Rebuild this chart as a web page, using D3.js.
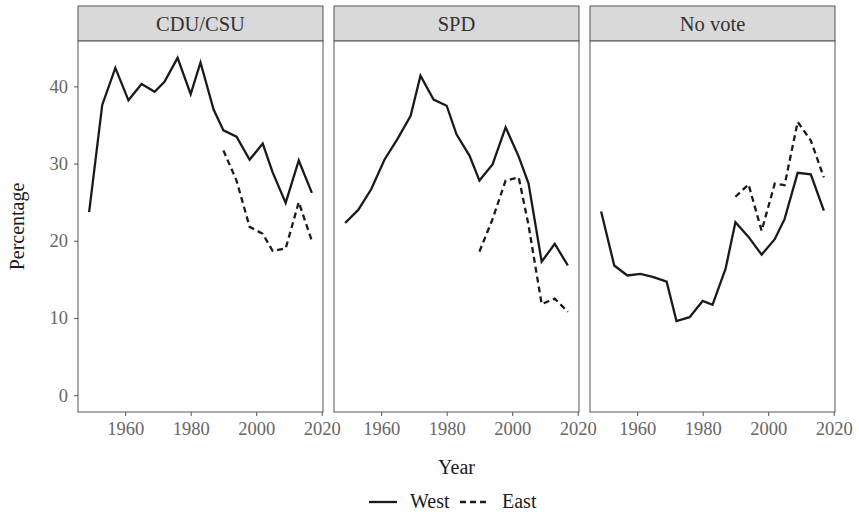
<!DOCTYPE html>
<html>
<head>
<meta charset="utf-8">
<script src="https://cdn.jsdelivr.net/npm/d3@7"></script>
<style>
body { margin: 0; background: #fff; }
svg text { font-family: "Liberation Serif", "DejaVu Serif", serif; }
</style>
</head>
<body>
<div id="chart"></div>
<script>
var w = 859;
var h = 514;

var years = [1949, 1953, 1957, 1961, 1965, 1969, 1972, 1976, 1980, 1983, 1987, 1990, 1994, 1998, 2002, 2005, 2009, 2013, 2017];
var eastYears = [1990, 1994, 1998, 2002, 2005, 2009, 2013, 2017];
var panels = ["CDU/CSU", "SPD", "No vote"];

var cduWest = [23.7, 37.6, 42.4, 38.2, 40.3, 39.3, 40.6, 43.7, 39.0, 43.1, 37.0, 34.3, 33.5, 30.5, 32.6, 28.9, 24.9, 30.4, 26.2];
var cduEast = [31.7, 27.8, 21.8, 20.9, 18.7, 19.0, 25.0, 20.0];
var spdWest = [22.3, 24.0, 26.7, 30.5, 33.2, 36.2, 41.4, 38.3, 37.5, 33.8, 31.0, 27.8, 29.9, 34.7, 30.9, 27.4, 17.3, 19.6, 16.8];
var spdEast = [18.6, 22.8, 27.8, 28.2, 22.0, 11.8, 12.5, 10.8];
var noWest = [23.8, 16.8, 15.5, 15.7, 15.3, 14.7, 9.6, 10.1, 12.2, 11.7, 16.4, 22.4, 20.5, 18.2, 20.2, 22.8, 28.8, 28.6, 23.9];
var noEast = [25.7, 27.3, 21.3, 27.4, 27.2, 35.4, 33.0, 28.2];

var yTicks = [0, 10, 20, 30, 40];
var xTicks = [1960, 1980, 2000, 2020];

var west = [cduWest, spdWest, noWest];
var east = [cduEast, spdEast, noEast];

var panelLeft = [78, 334, 590];
var panelW = 245;
var stripTop = 6, stripBot = 41, panelBot = 412;

var svg = d3.select("#chart").append("svg")
    .attr("width", w)
    .attr("height", h);

var allVals = [].concat(cduWest, cduEast, spdWest, spdEast, noWest, noEast, [0]);
var yMin = d3.min(allVals), yMax = d3.max(allVals);
var yPad = (yMax - yMin) * 0.05;
var yScale = d3.scaleLinear()
    .domain([yMin - yPad, yMax + yPad])
    .range([panelBot, stripBot]);

var xPad = (2017 - 1949) * 0.05;

var line = d3.line()
    .x(function(d) { return d.x; })
    .y(function(d) { return d.y; });

panels.forEach(function(name, i) {
    var xScale = d3.scaleLinear()
        .domain([1949 - xPad, 2017 + xPad])
        .range([panelLeft[i], panelLeft[i] + panelW]);

    // strip
    svg.append("rect")
        .attr("x", panelLeft[i])
        .attr("y", stripTop)
        .attr("width", panelW)
        .attr("height", stripBot - stripTop)
        .attr("fill", "#d9d9d9")
        .attr("stroke", "#555")
        .attr("stroke-width", 1);
    svg.append("text")
        .attr("x", panelLeft[i] + panelW / 2)
        .attr("y", (stripTop + stripBot) / 2 + 7)
        .attr("text-anchor", "middle")
        .attr("font-size", 20.5)
        .attr("fill", "#333")
        .text(name);

    // panel
    svg.append("rect")
        .attr("x", panelLeft[i])
        .attr("y", stripBot)
        .attr("width", panelW)
        .attr("height", panelBot - stripBot)
        .attr("fill", "#fff")
        .attr("stroke", "#555")
        .attr("stroke-width", 1);

    var westPts = years.map(function(y, j) { return {x: xScale(y), y: yScale(west[i][j])}; });
    var eastPts = eastYears.map(function(y, j) { return {x: xScale(y), y: yScale(east[i][j])}; });

    svg.append("path")
        .datum(westPts)
        .attr("d", line)
        .attr("fill", "none")
        .attr("stroke", "#1a1a1a")
        .attr("stroke-width", 2.3);

    svg.append("path")
        .datum(eastPts)
        .attr("d", line)
        .attr("fill", "none")
        .attr("stroke", "#1a1a1a")
        .attr("stroke-width", 2.3)
        .attr("stroke-dasharray", "6,4");

    //X axis
    var xAxis = d3.axisBottom(xScale)
        .tickValues(xTicks)
        .tickFormat(d3.format("d"))
        .tickSize(4)
        .tickPadding(6);
    var gx = svg.append("g")
        .attr("transform", "translate(0," + panelBot + ")")
        .call(xAxis);
    gx.select(".domain").remove();
    gx.selectAll("line").attr("stroke", "#555");
    gx.selectAll("text")
        .attr("font-size", 18.5)
        .attr("fill", "#666")
        .style("font-family", "Liberation Serif");

    if (i === 0) {
        var yAxis = d3.axisLeft(yScale)
            .tickValues(yTicks)
            .tickSize(4)
            .tickPadding(6);
        var gy = svg.append("g")
            .attr("transform", "translate(" + panelLeft[i] + ",0)")
            .call(yAxis);
        gy.select(".domain").remove();
        gy.selectAll("line").attr("stroke", "#555");
        gy.selectAll("text")
            .attr("font-size", 18.5)
            .attr("fill", "#666")
            .style("font-family", "Liberation Serif");
    }
});

// axis titles
svg.append("text")
    .attr("x", (panelLeft[0] + panelLeft[2] + panelW) / 2)
    .attr("y", 474)
    .attr("text-anchor", "middle")
    .attr("font-size", 20)
    .attr("fill", "#1a1a1a")
    .text("Year");

svg.append("text")
    .attr("transform", "translate(24," + ((stripBot + panelBot) / 2) + ") rotate(-90)")
    .attr("text-anchor", "middle")
    .attr("font-size", 20)
    .attr("fill", "#1a1a1a")
    .text("Percentage");

// legend
var legend = [{label: "West", dash: null, x: 369, tx: 410}, {label: "East", dash: "6,4", x: 460, tx: 502}];
legend.forEach(function(l) {
    svg.append("line")
        .attr("x1", l.x).attr("x2", l.x + 28)
        .attr("y1", 502).attr("y2", 502)
        .attr("stroke", "#1a1a1a")
        .attr("stroke-width", 2.3)
        .attr("stroke-dasharray", l.dash);
    svg.append("text")
        .attr("x", l.tx)
        .attr("y", 508)
        .attr("font-size", 20)
        .attr("fill", "#1a1a1a")
        .text(l.label);
});
</script>
</body>
</html>
